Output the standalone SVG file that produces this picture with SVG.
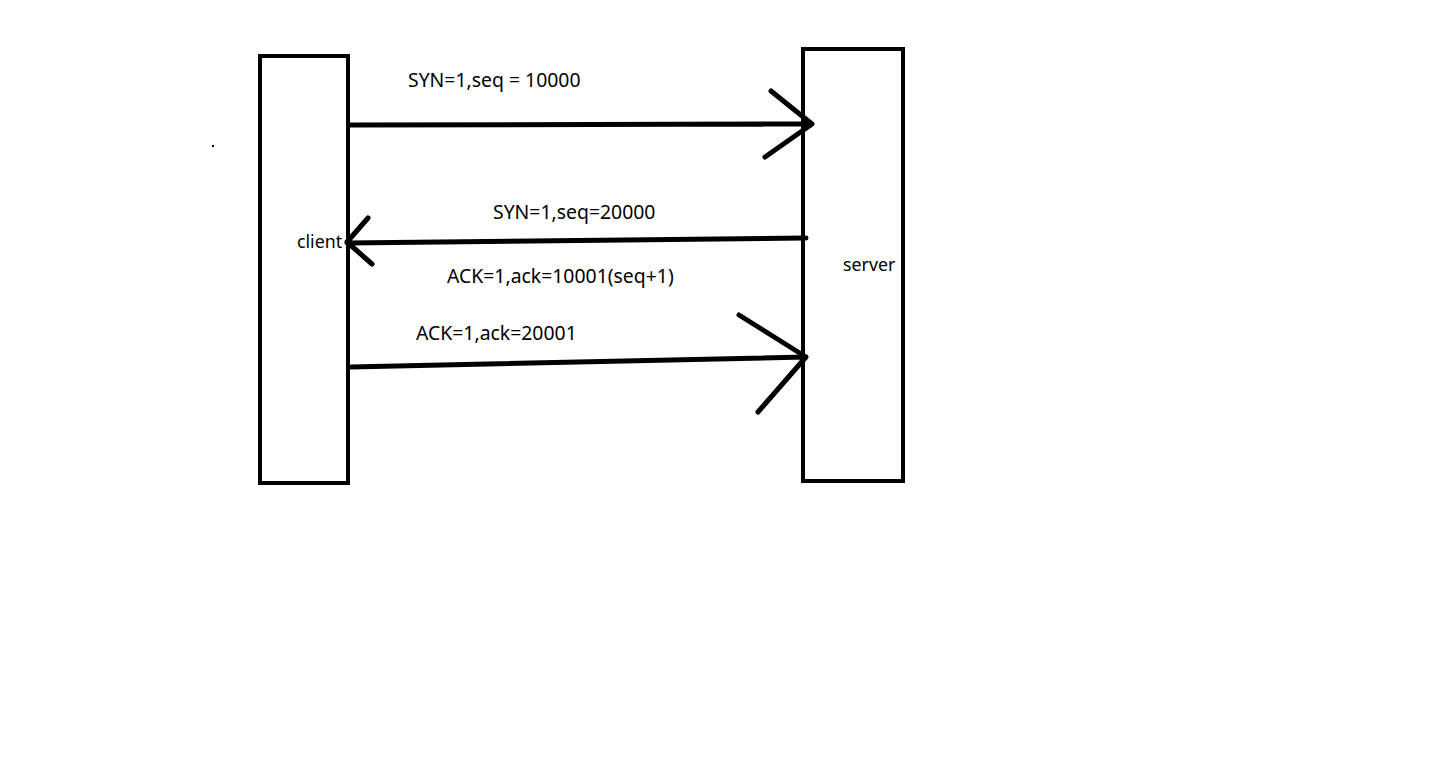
<svg xmlns="http://www.w3.org/2000/svg" width="1430" height="759" viewBox="0 0 1430 759">
<style>
.box{fill:none;stroke:#000;stroke-width:4}
.ln{fill:none;stroke:#000;stroke-width:5;stroke-linecap:round;stroke-linejoin:round}
text{font-family:"Noto Sans","Open Sans",sans-serif;font-size:19.4px;fill:#000}
.nl{font-size:17.8px}
</style>
<rect width="1430" height="759" fill="#fff"/>
<g id="client">
<rect class="box" x="260" y="56" width="88" height="427"/>
<text class="nl" x="297" y="248">client</text>
</g>
<g id="server">
<rect class="box" x="803" y="49" width="100" height="432"/>
<text class="nl" x="843" y="271">server</text>
</g>
<g id="connectors">
<path class="ln" d="M350 125 L812 124 M771 91 L812 124 L765 157"/>
<path class="ln" d="M806 238 L347 243 M368 218 L347 242 L372 264"/>
<path class="ln" d="M351 367 L806 357 M739 315 L806 357 L758 412"/>
</g>
<g id="labels">
<text x="408" y="87">SYN=1,seq = 10000</text>
<text x="493" y="219">SYN=1,seq=20000</text>
<text x="447" y="283">ACK=1,ack=10001(seq+1)</text>
<text x="416" y="340">ACK=1,ack=20001</text>
</g>
<rect x="212" y="145" width="2" height="2" fill="#000"/>
</svg>
